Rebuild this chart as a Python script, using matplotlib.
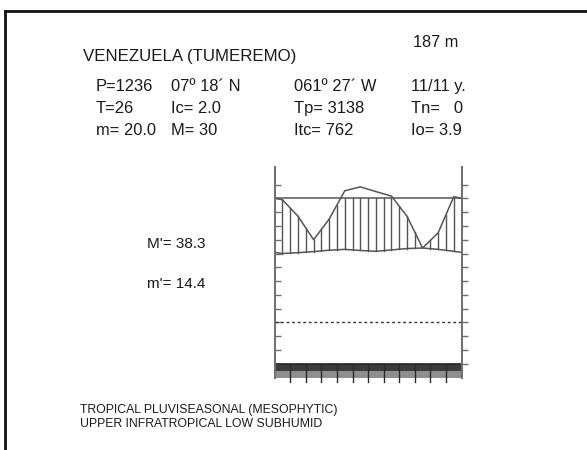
import matplotlib
matplotlib.use('Agg')
import matplotlib.pyplot as plt
from matplotlib.lines import Line2D
import numpy as np

plt.rcParams['font.family'] = ['Liberation Sans', 'DejaVu Sans']

# monthly climate values (Jan..Dec)
months = ['J', 'F', 'M', 'A', 'M', 'J', 'J', 'A', 'S', 'O', 'N', 'D']
temp = [25.0, 25.3, 25.7, 26.2, 26.5, 26.1, 25.8, 26.3, 26.8, 27.0, 26.5, 25.8]
precip = [89, 77, 60, 75, 159, 195, 152, 111, 77, 54, 65, 105]

station = 'VENEZUELA (TUMEREMO)'
altitude = '187 m'
header_rows = [
    ['P=1236', '07º 18´ N', '061º 27´ W', '11/11 y.'],
    ['T=26', 'Ic= 2.0', 'Tp= 3138', 'Tn=   0'],
    ['m= 20.0', 'M= 30', 'Itc= 762', 'Io= 3.9'],
]
side_labels = ["M'= 38.3", "m'= 14.4"]
bioclimate = ['TROPICAL PLUVISEASONAL (MESOPHYTIC)',
              'UPPER INFRATROPICAL LOW SUBHUMID']

W, H = 587, 450
fig = plt.figure(figsize=(W / 100, H / 100), dpi=100)


def fx(x):
    return x / W


def fy(y):
    return 1 - y / H


# frame of the plate
fig.add_artist(Line2D([fx(5), 1], [fy(11), fy(11)], color='#111111', lw=2))
fig.add_artist(Line2D([fx(5), fx(5)], [fy(11), 0], color='#111111', lw=2))

# diagram axes
ymin, ymax = -20.3, 56.4
ax = fig.add_axes([fx(274.7), fy(378.3), (461.5 - 274.7) / W, (378.3 - 167) / H])
ax.set_xlim(0, 12)
ax.set_ylim(ymin, ymax)
for s in ['top', 'bottom']:
    ax.spines[s].set_visible(False)
for s in ['left', 'right']:
    ax.spines[s].set_color('#6e6e6e')
    ax.spines[s].set_linewidth(1.4)
ax.set_xticks([])
ticks = np.arange(-15, 51, 5)
ax.set_yticks(ticks)
ax.tick_params(axis='y', left=True, right=False, labelleft=False,
               direction='in', length=4, color='#6e6e6e', width=1)

ax_r = ax.twinx()
ax_r.set_ylim(ymin, ymax)
ax_r.set_yticks(ticks)
for s in ['top', 'bottom', 'left', 'right']:
    ax_r.spines[s].set_visible(False)
ax_r.tick_params(axis='y', right=True, labelright=False,
                 direction='out', length=4, color='#6e6e6e', width=1)


def p_to_y(p):
    # P = 2T below 90 mm, compressed above
    return p / 2 if p <= 90 else 45 + (p - 90) / 25


py = [p_to_y(p) for p in precip]
edge_p = (py[0] + py[-1]) / 2
edge_t = (temp[0] + temp[-1]) / 2
xs = np.concatenate([[0], np.arange(12) + 0.5, [12]])
p_line = np.concatenate([[edge_p], py, [edge_p]])
t_line = np.concatenate([[edge_t], temp, [edge_t]])

ax.plot([0, 12], [45, 45], color='#7a7a7a', lw=1.4)
ax.plot([0, 12], [0, 0], color='#333333', lw=1, linestyle=(0, (2, 2)))

# humid period hatching
for hx in np.arange(0.5, 12, 0.5):
    pv = np.interp(hx, xs, p_line)
    tv = np.interp(hx, xs, t_line)
    if pv > tv:
        ax.plot([hx, hx], [tv, min(pv, 45)], color='#555555', lw=1)

ax.plot(xs, p_line, color='#555555', lw=1.1)
ax.plot(xs, t_line, color='#555555', lw=1.1)

# bottom band with month ticks
mx = np.arange(12) + 0.5
ax.bar(mx, [-2.8] * 12, bottom=-15, width=1, color='#3c3c3c', edgecolor='none')
ax.bar(mx, [-2.5] * 12, bottom=-17.8, width=1, color='#8e8e8e', edgecolor='none')
ax.plot([0, 12], [-15, -15], color='#222222', lw=1.2)
for i in range(1, 12):
    ax.plot([i, i], [-15, -21.6], color='#2a2a2a', lw=1, clip_on=False)

# header texts
tc = '#1a1a1a'
fig.text(fx(83), fy(61), station, fontsize=12.2, color=tc, va='baseline')
fig.text(fx(413), fy(47), altitude, fontsize=11.7, color=tc, va='baseline')
col_x = [96, 171, 294, 411]
row_base = [91, 113, 135]
for r, row in enumerate(header_rows):
    for c, txt in enumerate(row):
        fig.text(fx(col_x[c]), fy(row_base[r]), txt, fontsize=11.9, color=tc,
                 va='baseline')

fig.text(fx(147), fy(248.5), side_labels[0], fontsize=11, color=tc, va='baseline')
fig.text(fx(147), fy(288.5), side_labels[1], fontsize=11, color=tc, va='baseline')

fig.text(fx(80), fy(413.4), bioclimate[0], fontsize=8.8, color=tc, va='baseline')
fig.text(fx(80), fy(427.4), bioclimate[1], fontsize=8.8, color=tc, va='baseline')

fig.savefig('out.png', dpi=100)
